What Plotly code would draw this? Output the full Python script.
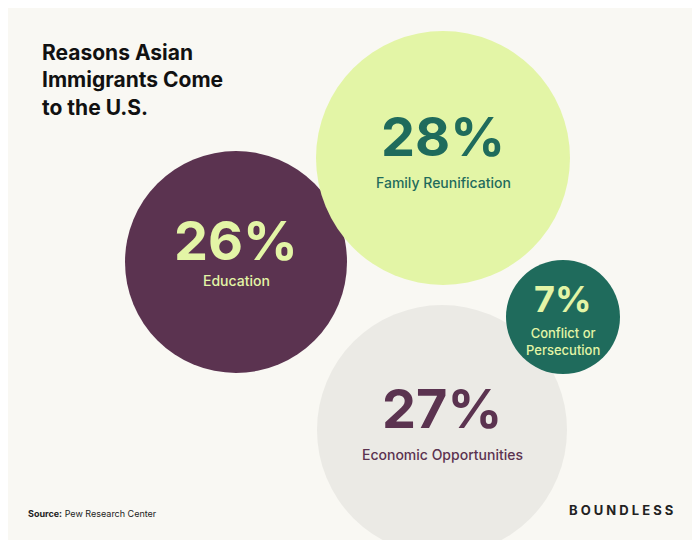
import plotly.graph_objects as go

labels = ["Education", "Family Reunification", "Economic Opportunities", "Conflict or<br>Persecution"]
values = [26, 28, 27, 7]
colors = ["#5b3350", "#e3f5a6", "#ebeae5", "#1f6b5c"]
text_colors = ["#e3f5a6", "#1f6b5c", "#5b3350", "#e3f5a6"]
cx = [228, 435, 434, 555]
cy = [254, 150, 422, 309]
diam = [222, 254, 250, 114]
pct_size = [54, 54, 54, 36]
lab_size = [14, 14, 14, 13]
pct_dy = [-22, -22, -22, -18]
lab_dy = [18, 24, 24, 24]

fig = go.Figure()
fig.add_trace(go.Scatter(
    x=cx, y=cy, mode="markers",
    marker=dict(size=diam, color=colors, line=dict(width=0), opacity=1),
    hoverinfo="skip"))

for i in range(len(labels)):
    fig.add_annotation(x=cx[i], y=cy[i] + pct_dy[i], text="<b>%d%%</b>" % values[i],
                       showarrow=False, font=dict(size=pct_size[i], color=text_colors[i], family="Inter"))
    fig.add_annotation(x=cx[i], y=cy[i] + lab_dy[i], text=labels[i],
                       showarrow=False, font=dict(size=lab_size[i], color=text_colors[i], family="Inter", weight=500))

fig.add_annotation(x=32, y=30, xanchor="left", yanchor="top", align="left",
                   text="<b>Reasons Asian<br>Immigrants Come<br>to the U.S.</b>",
                   showarrow=False, font=dict(size=21, color="#111111", family="Inter"))
fig.add_annotation(x=18, y=505, xanchor="left", text="<b>Source:</b> Pew Research Center",
                   showarrow=False, font=dict(size=9, color="#222222", family="Inter"))
fig.add_annotation(x=667, y=502, xanchor="right", text="<b>B O U N D L E S S</b>",
                   showarrow=False, font=dict(size=13, color="#222222", family="Inter"))

fig.update_layout(
    width=700, height=540, margin=dict(l=0, r=0, t=0, b=0),
    paper_bgcolor="#f9f8f3", plot_bgcolor="#f9f8f3", showlegend=False,
    xaxis=dict(range=[0, 700], visible=False, fixedrange=True),
    yaxis=dict(range=[540, 0], visible=False, fixedrange=True),
)
fig.write_html("out.html")
